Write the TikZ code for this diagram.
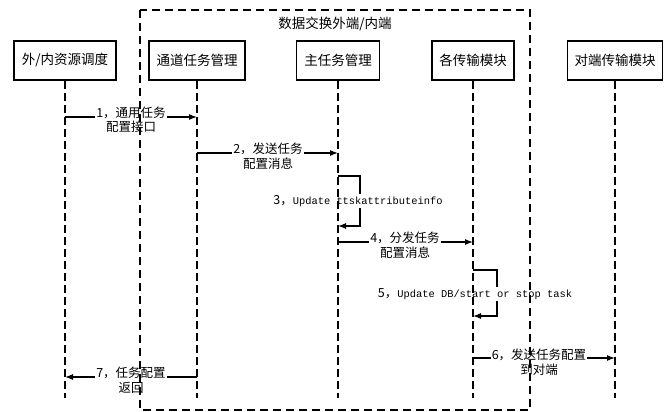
\documentclass[tikz,border=0pt]{standalone}
\usepackage{fontspec}
\setmainfont{Noto Sans CJK SC}
\newfontfamily\monofont{Liberation Mono}
\usetikzlibrary{arrows.meta}
\begin{document}
\begin{tikzpicture}[x=1pt,y=-1pt,
  actor/.style={draw, line width=1.2pt, minimum height=39pt, inner sep=0pt, font=\fontsize{13.5}{15}\selectfont},
  life/.style={dash pattern=on 8pt off 4pt, line width=1.1pt},
  frm/.style={dash pattern=on 8pt off 5pt, line width=1.1pt},
  msg/.style={line width=1.1pt, -{Latex[length=8pt,width=6pt]}},
  lbl/.style={fill=white, align=center, inner sep=1pt, font=\fontsize{12.5}{14.5}\selectfont}
]
\useasboundingbox (0,0) rectangle (665,412);
% actors
\node[actor, minimum width=102pt] (b1) at (65,60.5) {外/内资源调度};
\node[actor, minimum width=96pt] (b2) at (197,60.5) {通道任务管理};
\node[actor, minimum width=83pt] (b3) at (338,60.5) {主任务管理};
\node[actor, minimum width=82pt] (b4) at (473,60.5) {各传输模块};
\node[actor, minimum width=95pt] (b5) at (615,60.5) {对端传输模块};
\node[font=\fontsize{13.5}{15}\selectfont] (title) at (335,24) {数据交换外端/内端};
% coordinates
\coordinate (bot) at (0,398);
\coordinate (m1a) at (65,117);  \coordinate (m1b) at (197,117);
\coordinate (m2a) at (197,153); \coordinate (m2b) at (338,153);
\coordinate (m3a) at (338,176); \coordinate (m3c) at (360,176); \coordinate (m3b) at (338,226);
\coordinate (m4a) at (338,242); \coordinate (m4b) at (473,242);
\coordinate (m5a) at (473,270); \coordinate (m5c) at (497,270); \coordinate (m5b) at (473,316);
\coordinate (m6a) at (473,358); \coordinate (m6b) at (615,358);
\coordinate (m7a) at (197,377); \coordinate (m7b) at (65,377);
% messages
\draw[msg] (m1a) -- (m1b);
\draw[msg] (m2a) -- (m2b);
\draw[msg] (m3a) -- (m3c) |- (m3b);
\draw[msg] (m4a) -- (m4b);
\draw[msg] (m5a) -- (m5c) |- (m5b);
\draw[msg] (m6a) -- (m6b);
\draw[msg] (m7a) -- (m7b);
% labels
\node[lbl] (l1) at (131,120) {1，通用任务\\配置接口};
\node[lbl] (l2) at (268,156) {2，发送任务\\配置消息};
\node[lbl] (l3) at (358,201) {3，{\monofont\fontsize{10.4}{12}\selectfont Update ttskattributeinfo}};
\node[lbl] (l4) at (405,245) {4，分发任务\\配置消息};
\node[lbl] (l5) at (475,294) {5，{\monofont\fontsize{10.4}{12}\selectfont Update DB/start or stop task}};
\node[lbl] (l6) at (539,362) {6，发送任务配置\\到对端};
\node[lbl] (l7) at (131,380) {7，任务配置\\返回};
% lifelines
\foreach \b in {b1,b2,b3,b4,b5} \draw[life] (\b.south) -- (\b.south |- bot);
% frame
\draw[frm] (140,10) rectangle (530,410);
\end{tikzpicture}
\end{document}
